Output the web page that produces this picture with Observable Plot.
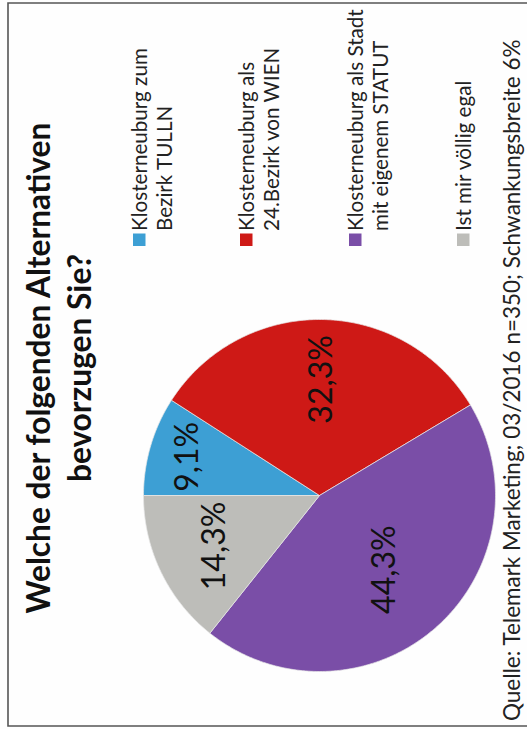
<!DOCTYPE html>
<html>
<head>
<meta charset="utf-8">
<script src="https://cdn.jsdelivr.net/npm/d3@7"></script>
<script src="https://cdn.jsdelivr.net/npm/@observablehq/plot@0.6"></script>
<style>
  html, body { margin: 0; padding: 0; background: #fff; overflow: hidden; }
  body { width: 527px; height: 729px; position: relative; }
  #rot {
    position: absolute; left: 0; top: 0;
    width: 729px; height: 527px;
    transform-origin: 0 0;
    transform: translate(0px, 729px) rotate(-90deg);
    font-family: Lato, "Open Sans", sans-serif;
    background: #fefefe;
  }
  #pie { position: absolute; }
</style>
</head>
<body>
<div id="rot">
  <div id="pie"></div>
</div>
<script>
// ---- data ----
const categories = [
  "Klosterneuburg zum Bezirk TULLN",
  "Klosterneuburg als 24.Bezirk von WIEN",
  "Klosterneuburg als Stadt mit eigenem STATUT",
  "Ist mir völlig egal"
];
const legendLines = [
  ["Klosterneuburg zum", "Bezirk TULLN"],
  ["Klosterneuburg als", "24.Bezirk von WIEN"],
  ["Klosterneuburg als Stadt", "mit eigenem STATUT"],
  ["Ist mir völlig egal"]
];
const values = [9.1, 32.3, 44.3, 14.3];
const valueLabels = ["9,1%", "32,3%", "44,3%", "14,3%"];
const colors = ["#3d9fd4", "#ce1916", "#7a4ea7", "#bdbdb9"];
const titleLines = ["Welche der folgenden Alternativen", "bevorzugen Sie?"];
const caption = "Quelle: Telemark Marketing; 03/2016 n=350; Schwankungsbreite 6%";

// ---- layout (unrotated frame: 729 wide, 527 high; whole frame turned 90° CCW) ----
const W = 729, H = 527;
const R = 176, pad = 2;
const pieCenter = {u: 233, v: 319};
const labelRadius = [0.78, 0.66, 0.56, 0.66];
const legendTops = [133, 240, 349, 457];
const legendU = 483, legendSw = 12.5, legendTextU = 498, legendLineGap = 25;
const titleCenterU = 361, titleBaselines = [50, 91], titleTarget = 491;
const legendTarget = 183;   // width of "Klosterneuburg zum"
const captionU = 8, captionBaseline = 520, captionTarget = 682;

const overlay = d3.select("#rot").append("svg")
  .attr("width", W).attr("height", H)
  .style("position", "absolute").style("left", "0px").style("top", "0px")
  .style("font-family", "Lato, 'Open Sans', sans-serif");

function fit(sel, target) {
  const L = sel.node().getComputedTextLength();
  const f = parseFloat(sel.attr("font-size"));
  return f * target / L;
}

// frame
overlay.append("path")
  .attr("d", `M3,${H + 5} V8 H726 V${H + 5}`)
  .attr("fill", "none").attr("stroke", "#555").attr("stroke-width", 1.6);

// title
const tl = titleLines.map((t, i) => overlay.append("text")
  .attr("x", titleCenterU).attr("y", titleBaselines[i])
  .attr("text-anchor", "middle").attr("font-weight", "bold")
  .attr("font-size", 30).attr("fill", "#111").text(t));
const tf = fit(tl[0], titleTarget);
tl.forEach(s => s.attr("font-size", tf));

// legend
const legTexts = [];
categories.forEach((c, i) => {
  overlay.append("rect")
    .attr("x", legendU).attr("y", legendTops[i])
    .attr("width", legendSw).attr("height", legendSw)
    .attr("fill", colors[i]);
  legendLines[i].forEach((line, j) => {
    legTexts.push(overlay.append("text")
      .attr("x", legendTextU).attr("y", legendTops[i] + 14 + j * legendLineGap)
      .attr("font-size", 19).attr("fill", "#222").text(line));
  });
});
const lf = fit(legTexts[0], legendTarget);
legTexts.forEach(s => s.attr("font-size", lf));

// caption
const cap = overlay.append("text")
  .attr("x", captionU).attr("y", captionBaseline)
  .attr("font-size", 22).attr("fill", "#222").text(caption);
cap.attr("font-size", fit(cap, captionTarget));

// ---- pie geometry from the data ----
const table = categories.map((c, i) => ({category: c, value: values[i], label: valueLabels[i], idx: i}));
const arcs = d3.pie().sort(null).value(d => d.value)(table);
const polys = [];
const labelPts = [];
arcs.forEach(a => {
  const cat = a.data.category;
  polys.push({category: cat, x: 0, y: 0});
  const n = Math.max(2, Math.ceil((a.endAngle - a.startAngle) / (Math.PI / 360)));
  for (let k = 0; k <= n; k++) {
    const t = a.startAngle + (a.endAngle - a.startAngle) * k / n;
    polys.push({category: cat, x: Math.sin(t), y: Math.cos(t)});
  }
  polys.push({category: cat, x: 0, y: 0});
  const m = (a.startAngle + a.endAngle) / 2;
  const r = labelRadius[a.data.idx];
  labelPts.push({label: a.data.label, x: r * Math.sin(m), y: r * Math.cos(m)});
});

const size = 2 * R + 2 * pad;
const chart = Plot.plot({
  width: size,
  height: size,
  margin: pad,
  style: {background: "transparent", fontFamily: "Lato, sans-serif", overflow: "visible"},
  x: {domain: [-1, 1], axis: null},
  y: {domain: [-1, 1], axis: null},
  color: {domain: categories, range: colors},
  marks: [
    Plot.line(polys, {x: "x", y: "y", z: "category", fill: "category", stroke: "#e8e8e8", strokeWidth: 0.8, strokeOpacity: 0.9, curve: "linear"}),
    Plot.text(labelPts, {x: "x", y: "y", text: "label", fontSize: 32, fill: "#111"})
  ]
});
const pie = document.getElementById("pie");
pie.style.left = (pieCenter.u - R - pad) + "px";
pie.style.top = (pieCenter.v - R - pad) + "px";
pie.appendChild(chart);
</script>
</body>
</html>
